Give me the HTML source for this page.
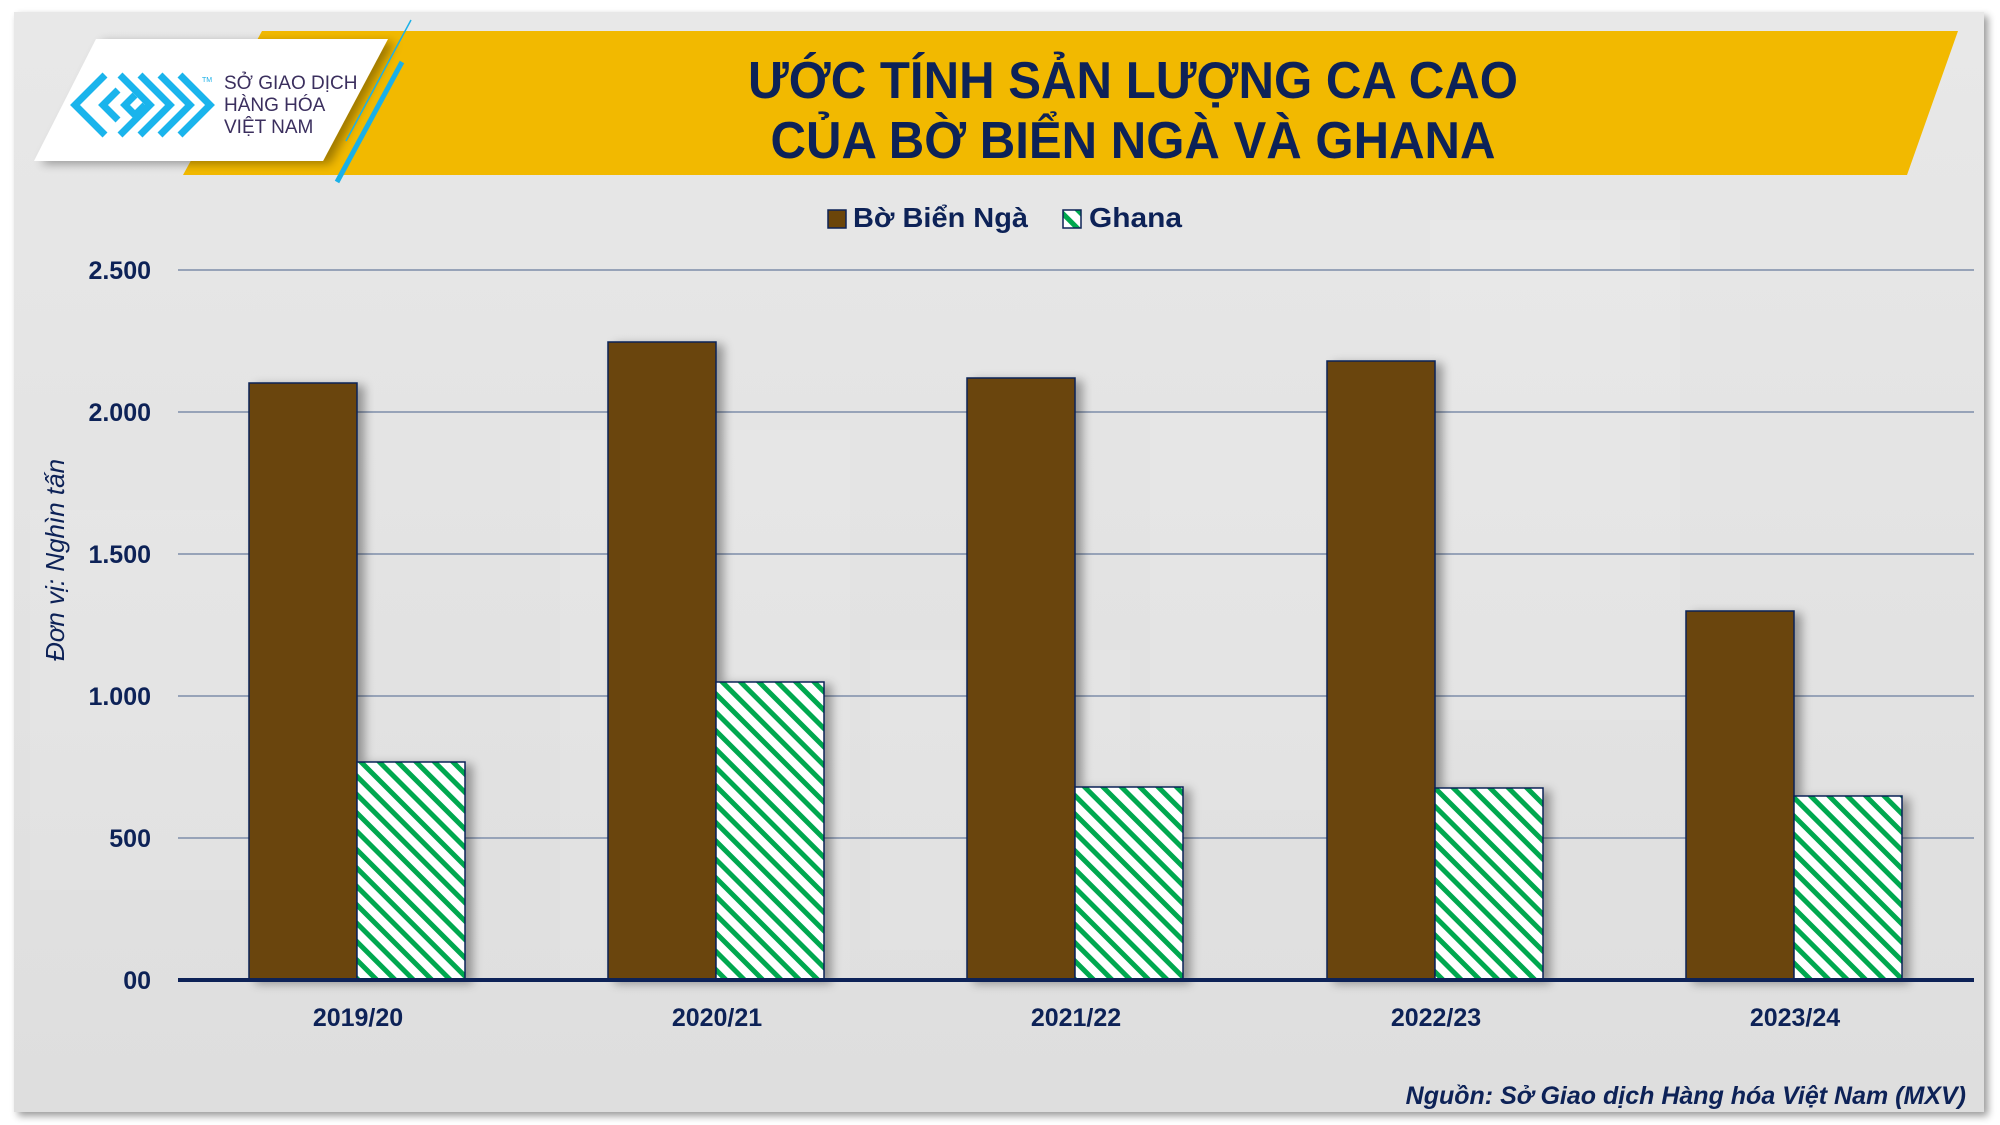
<!DOCTYPE html>
<html><head><meta charset="utf-8"><style>
html,body{margin:0;padding:0;background:#fff;}
svg{display:block;}
text{font-family:"Liberation Sans",sans-serif;}
</style></head><body>
<svg width="2000" height="1125" viewBox="0 0 2000 1125" xmlns="http://www.w3.org/2000/svg">
<defs>
<pattern id="hatch" patternUnits="userSpaceOnUse" width="13" height="13" patternTransform="rotate(-45)">
<rect width="13" height="13" fill="#fff"/>
<rect x="0" y="0" width="5" height="13" fill="#00a84f"/>
</pattern>
<filter id="sh" x="-20%" y="-10%" width="150%" height="130%">
<feGaussianBlur in="SourceAlpha" stdDeviation="5"/>
<feOffset dx="7" dy="3"/>
<feComponentTransfer><feFuncA type="linear" slope="0.35"/></feComponentTransfer>
<feMerge><feMergeNode/><feMergeNode in="SourceGraphic"/></feMerge>
</filter>
<filter id="psh" x="-5%" y="-5%" width="110%" height="110%">
<feGaussianBlur in="SourceAlpha" stdDeviation="4"/>
<feOffset dx="4" dy="4"/>
<feComponentTransfer><feFuncA type="linear" slope="0.4"/></feComponentTransfer>
<feMerge><feMergeNode/><feMergeNode in="SourceGraphic"/></feMerge>
</filter>
<linearGradient id="bg" x1="0" y1="0" x2="0" y2="1">
<stop offset="0" stop-color="#e8e8e8"/><stop offset="1" stop-color="#dedede"/>
</linearGradient>
</defs>
<rect width="2000" height="1125" fill="#fff"/>
<rect x="14" y="12" width="1970" height="1100" fill="url(#bg)" filter="url(#psh)"/>
<g fill="#ffffff" opacity="0.08">
<rect x="1430" y="220" width="250" height="500"/>
<rect x="560" y="430" width="290" height="560"/>
<rect x="870" y="650" width="260" height="300"/>
<rect x="1150" y="410" width="240" height="400"/>
<rect x="30" y="510" width="220" height="380"/>
</g>
<polygon points="262,31 1958,31 1907,175 183,175" fill="#f2b900"/>
<polygon points="96,39 388,39 323,161 34,161" fill="#fff" filter="url(#sh)"/>
<line x1="411" y1="20" x2="346" y2="141" stroke="#1ab0e8" stroke-width="1.5"/>
<line x1="402" y1="62" x2="337" y2="182" stroke="#1ab0e8" stroke-width="5"/>
<g fill="none" stroke="#1ab4ec" stroke-width="7" stroke-linejoin="miter">
<polyline points="105,75 75,105 105,135"/>
<polyline points="120,75 150,105 120,135"/>
<polyline points="118,90 103,105 118,120"/>
<polyline points="140,75 170,105 140,135"/>
<polyline points="160,75 190,105 160,135"/>
<polyline points="180,75 210,105 180,135"/>
<polyline points="135,95 125,105 135,115 145,105"/>
</g>
<text x="202" y="82" font-size="7" fill="#1ab0e8">TM</text>
<g fill="#3b2f5e" font-size="19" style="font-family:'Liberation Sans Narrow','Liberation Sans',sans-serif">
<text x="224" y="89">SỞ GIAO DỊCH</text>
<text x="224" y="111">HÀNG HÓA</text>
<text x="224" y="133">VIỆT NAM</text>
</g>
<g fill="#0d2257" font-weight="bold" font-size="52" text-anchor="middle" style="font-family:'Liberation Sans Narrow','Liberation Sans',sans-serif">
<text x="1133" y="98" textLength="770" lengthAdjust="spacingAndGlyphs">ƯỚC TÍNH SẢN LƯỢNG CA CAO</text>
<text x="1133" y="158" textLength="725" lengthAdjust="spacingAndGlyphs">CỦA BỜ BIỂN NGÀ VÀ GHANA</text>
</g>
<rect x="828" y="210" width="18" height="18" fill="#6b4509" stroke="#0d2257" stroke-width="1.5"/>
<text x="853" y="227" font-size="28" font-weight="bold" fill="#0d2257" style="font-family:'Liberation Sans Narrow','Liberation Sans',sans-serif" textLength="175" lengthAdjust="spacingAndGlyphs">Bờ Biển Ngà</text>
<rect x="1063" y="210" width="18" height="18" fill="url(#hatch)" stroke="#0d2257" stroke-width="1.5"/>
<text x="1089" y="227" font-size="28" font-weight="bold" fill="#0d2257" style="font-family:'Liberation Sans Narrow','Liberation Sans',sans-serif" textLength="93" lengthAdjust="spacingAndGlyphs">Ghana</text>
<g stroke="#97a3b8" stroke-width="2">
<line x1="178" y1="270" x2="1974" y2="270"/>
<line x1="178" y1="412" x2="1974" y2="412"/>
<line x1="178" y1="554" x2="1974" y2="554"/>
<line x1="178" y1="696" x2="1974" y2="696"/>
<line x1="178" y1="838" x2="1974" y2="838"/>
</g>
<g fill="#0d2257" font-size="25" font-weight="bold" text-anchor="end">
<text x="151" y="279">2.500</text>
<text x="151" y="421">2.000</text>
<text x="151" y="563">1.500</text>
<text x="151" y="705">1.000</text>
<text x="151" y="847">500</text>
<text x="151" y="989">00</text>
</g>
<text transform="translate(64,560) rotate(-90)" text-anchor="middle" font-size="26" font-style="italic" fill="#0d2257">Đơn vị: Nghìn tấn</text>
<g stroke="#0d2257" stroke-width="1.5" filter="url(#sh)">
<rect x="249" y="383" width="108" height="597" fill="#6b4509"/>
<rect x="357" y="762" width="108" height="218" fill="url(#hatch)"/>
<rect x="608" y="342" width="108" height="638" fill="#6b4509"/>
<rect x="716" y="682" width="108" height="298" fill="url(#hatch)"/>
<rect x="967" y="378" width="108" height="602" fill="#6b4509"/>
<rect x="1075" y="787" width="108" height="193" fill="url(#hatch)"/>
<rect x="1327" y="361" width="108" height="619" fill="#6b4509"/>
<rect x="1435" y="788" width="108" height="192" fill="url(#hatch)"/>
<rect x="1686" y="611" width="108" height="369" fill="#6b4509"/>
<rect x="1794" y="796" width="108" height="184" fill="url(#hatch)"/>
</g>
<line x1="178" y1="980" x2="1974" y2="980" stroke="#0d2257" stroke-width="4"/>
<g fill="#0d2257" font-size="25" font-weight="bold" text-anchor="middle">
<text x="358" y="1026">2019/20</text>
<text x="717" y="1026">2020/21</text>
<text x="1076" y="1026">2021/22</text>
<text x="1436" y="1026">2022/23</text>
<text x="1795" y="1026">2023/24</text>
</g>
<text x="1966" y="1104" text-anchor="end" font-size="25" font-weight="bold" font-style="italic" fill="#0d2257">Nguồn: Sở Giao dịch Hàng hóa Việt Nam (MXV)</text>
</svg>
</body></html>
